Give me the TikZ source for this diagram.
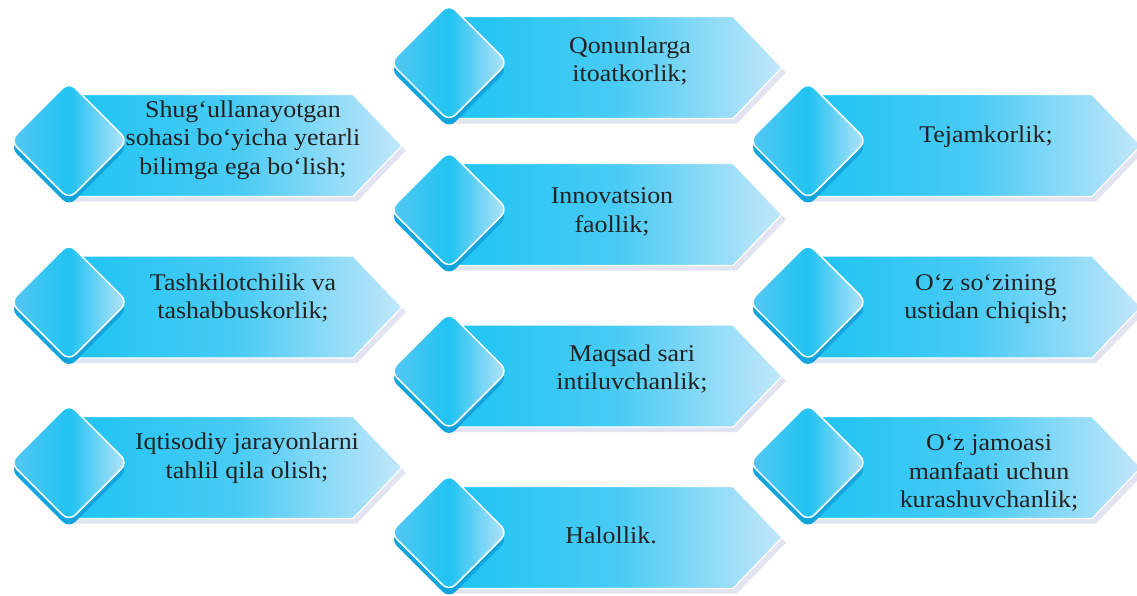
\documentclass[tikz,border=0pt]{standalone}
\usepackage{fontspec}
\setmainfont[FakeStretch=1.08]{Liberation Serif}
\usetikzlibrary{shapes.geometric,shadows}

\definecolor{bandleft}{RGB}{30,196,243}
\definecolor{bandmid}{RGB}{72,203,244}
\definecolor{bandright}{RGB}{194,231,250}
\definecolor{dialeft}{RGB}{86,200,242}
\definecolor{diamid}{RGB}{32,195,242}
\definecolor{diaright}{RGB}{186,228,249}
\definecolor{diashade}{RGB}{18,164,220}
\definecolor{bandshade}{RGB}{226,229,241}
\definecolor{textdark}{RGB}{34,34,34}

\begin{document}
\begin{tikzpicture}[x=1pt,y=-1pt]
      \tikzstyle{band}=[left color=bandleft,right color=bandright,middle color=bandmid,
        draw=white,line width=1.2pt,
        drop shadow={shadow xshift=4pt,shadow yshift=-5pt,fill=bandshade,opacity=1}]
      \tikzstyle{gem}=[diamond,minimum width=118pt,minimum height=118pt,inner sep=0pt,
        rounded corners=9pt,left color=dialeft,right color=diaright,middle color=diamid,
        draw=white,line width=1.5pt,
        drop shadow={shadow xshift=0pt,shadow yshift=-7pt,fill=diashade,opacity=1}]
      \tikzstyle{label}=[align=center,text=textdark,font=\fontsize{24}{28.5}\selectfont]

      \useasboundingbox (0,0) rectangle (1137,595);

      % one band + diamond + text per quality; cx = diamond centre, cy = band centre
      \foreach \name/\cx/\cy/\tx/\ty/\txt in {
          a/69/145.5/243/140/{Shug‘ullanayotgan\\sohasi bo‘yicha yetarli\\bilimga ega bo‘lish;},
          b/69/307/243/298/{Tashkilotchilik va\\tashabbuskorlik;},
          c/69/467.5/247/458/{Iqtisodiy jarayonlarni\\tahlil qila olish;},
          d/449/67.5/630/61/{Qonunlarga\\itoatkorlik;},
          e/449/214.5/612/212/{Innovatsion\\faollik;},
          f/449/376/632/369/{Maqsad sari\\intiluvchanlik;},
          g/449/537.5/611/535/{Halollik.},
          h/808/145.5/986/137/{Tejamkorlik;},
          i/808/307/986/299/{O‘z so‘zining\\ustidan chiqish;},
          j/808/467.5/989/473/{O‘z jamoasi\\manfaati uchun\\kurashuvchanlik;}}
      {
          \path[band] (\cx,\cy-51) -- (\cx+284,\cy-51) -- (\cx+333,\cy)
              -- (\cx+284,\cy+51) -- (\cx,\cy+51) -- cycle;
          \node[gem] (D-\name) at (\cx,\cy-5) {};
          \node[label] (T-\name) at (\tx,\ty) {\txt};
      }
\end{tikzpicture}
\end{document}
